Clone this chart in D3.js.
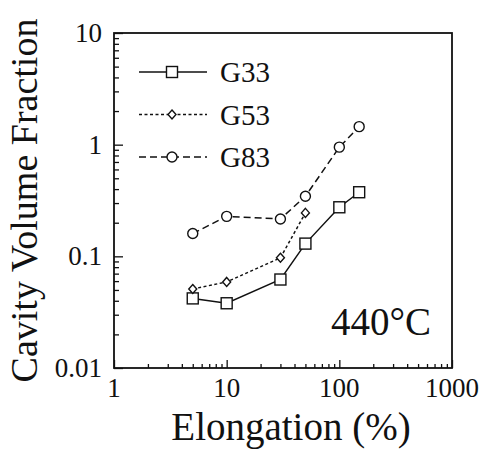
<!DOCTYPE html>
<html>
<head>
<meta charset="utf-8">
<script src="https://cdn.jsdelivr.net/npm/d3@7"></script>
</head>
<body style="margin:0">
<script>
// data
const elongation = [5, 10, 30, 50, 100, 150];
const g33 = [0.042, 0.038, 0.062, 0.13, 0.275, 0.375];
const g53Elong = [5, 10, 30, 50];
const g53 = [0.051, 0.059, 0.097, 0.245];
const g83 = [0.16, 0.228, 0.216, 0.345, 0.95, 1.45];
const xTickLabels = [1, 10, 100, 1000];
const yTickLabels = [0.01, 0.1, 1, 10];
const yTickText = ["0.01", "0.1", "1", "10"];

const series = [
  {name: "G33", xs: elongation, ys: g33, dash: null, symbol: "square"},
  {name: "G53", xs: g53Elong, ys: g53, dash: "3,2.5", symbol: "diamond"},
  {name: "G83", xs: elongation, ys: g83, dash: "7,4", symbol: "circle"}
];

const serif = '"Liberation Serif"';

/* Size and plot frame */
const width = 488, height = 455;
const margin = {top: 33, right: 36, bottom: 87, left: 114};

const svg = d3.select("body")
  .append("svg")
  .attr("width", width)
  .attr("height", height)
  .style("display", "block");

const xScale = d3.scaleLog()
  .domain([1, 1000])
  .range([margin.left, width - margin.right]);
const yScale = d3.scaleLog()
  .domain([0.01, 10])
  .range([height - margin.bottom, margin.top]);

/* minor ticks 2..9 in every decade */
const minorX = [], minorY = [];
for (let d = 1; d < 1000; d *= 10) for (let k = 2; k <= 9; k++) minorX.push(d * k);
for (let d = 0.01; d < 9; d *= 10) for (let k = 2; k <= 9; k++) minorY.push(+(d * k).toPrecision(3));

const addText = (x, y, size, str, anchor) => svg.append("text")
  .attr("x", x).attr("y", y)
  .attr("font-size", size)
  .attr("text-anchor", anchor || "start")
  .attr("fill", "#111")
  .style("font-family", serif)
  .text(str);

const axisStroke = g => {
  g.select(".domain").remove();
  g.selectAll(".tick line").attr("stroke", "#111").attr("stroke-width", 1.3);
};

// bottom axis - inward ticks, labels drawn as own text below
svg.append("g")
  .attr("transform", `translate(0,${height - margin.bottom})`)
  .call(d3.axisBottom(xScale).tickValues(minorX).tickSize(-4).tickFormat(""))
  .call(axisStroke);
svg.append("g")
  .attr("transform", `translate(0,${height - margin.bottom})`)
  .call(d3.axisBottom(xScale).tickValues(xTickLabels).tickSize(-8).tickFormat(""))
  .call(axisStroke);
xTickLabels.forEach(v => addText(xScale(v), 397, 27, d3.format("d")(v), "middle"));

// left axis - inward ticks
svg.append("g")
  .attr("transform", `translate(${margin.left},0)`)
  .call(d3.axisLeft(yScale).tickValues(minorY).tickSize(-5).tickFormat(""))
  .call(axisStroke);
svg.append("g")
  .attr("transform", `translate(${margin.left},0)`)
  .call(d3.axisLeft(yScale).tickValues(yTickLabels).tickSize(-9).tickFormat(""))
  .call(axisStroke);
yTickLabels.forEach((v, i) => addText(102, yScale(v) + 9, 27, yTickText[i], "end"));

// frame
svg.append("rect")
  .attr("x", margin.left)
  .attr("y", margin.top)
  .attr("width", width - margin.left - margin.right)
  .attr("height", height - margin.top - margin.bottom)
  .attr("fill", "none")
  .attr("stroke", "#111")
  .attr("stroke-width", 1.8);

/* markers */
const drawSymbol = (g, type, cx, cy) => {
  if (type === "square") {
    g.append("rect").attr("x", cx - 5.5).attr("y", cy - 5.5)
      .attr("width", 11).attr("height", 11)
      .attr("fill", "#fff").attr("stroke", "#111").attr("stroke-width", 1.4);
  } else if (type === "diamond") {
    g.append("path")
      .attr("d", `M${cx},${cy - 4.5}L${cx + 4},${cy}L${cx},${cy + 4.5}L${cx - 4},${cy}Z`)
      .attr("fill", "#fff").attr("stroke", "#111").attr("stroke-width", 1.4);
  } else {
    g.append("circle").attr("cx", cx).attr("cy", cy).attr("r", 5)
      .attr("fill", "#fff").attr("stroke", "#111").attr("stroke-width", 1.4);
  }
};

const line = d3.line()
  .x(d => xScale(d[0]))
  .y(d => yScale(d[1]));

series.forEach(s => {
  const pts = s.xs.map((x, i) => [x, s.ys[i]]);
  svg.append("path")
    .attr("d", line(pts))
    .attr("fill", "none")
    .attr("stroke", "#111")
    .attr("stroke-width", 1.5)
    .attr("stroke-dasharray", s.dash);
  const g = svg.append("g");
  pts.forEach(p => drawSymbol(g, s.symbol, xScale(p[0]), yScale(p[1])));
});

/* legend */
const legend = svg.append("g");
series.forEach((s, i) => {
  const y = 72 + i * 42.5;
  legend.append("line")
    .attr("x1", 139).attr("x2", 207).attr("y1", y).attr("y2", y)
    .attr("stroke", "#111").attr("stroke-width", 1.5)
    .attr("stroke-dasharray", s.dash);
  drawSymbol(legend, s.symbol, 172, y);
  addText(220, y + 10, 29, s.name);
});

// temperature note
addText(431, 335, 39, "440°C", "end");

// axis titles
addText(291, 440, 39, "Elongation (%)", "middle");
addText(0, 0, 38, "Cavity Volume Fraction", "middle")
  .attr("transform", `translate(37,${(margin.top + height - margin.bottom) / 2}) rotate(-90)`);
</script>
</body>
</html>
